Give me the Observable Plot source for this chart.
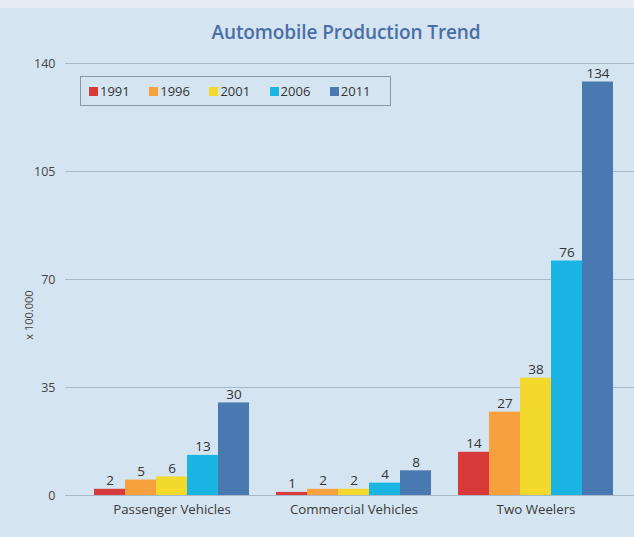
<!DOCTYPE html>
<html>
<head>
<meta charset="utf-8">
<script src="https://cdn.jsdelivr.net/npm/d3@7"></script>
<script src="https://cdn.jsdelivr.net/npm/@observablehq/plot@0.6"></script>
<style>
  html, body { margin: 0; padding: 0; }
  body { width: 634px; height: 537px; background: #d4e4f0; overflow: hidden; font-family: "Open Sans", sans-serif; }
  #wrap { position: relative; width: 634px; height: 537px; }
  #topstrip { position: absolute; left: 0; top: 0; width: 634px; height: 8px; background: #e6eef4; }
  #title { position: absolute; left: 0; width: 634px; top: 19px; text-align: center; padding-left: 58px; box-sizing: border-box;
           font-size: 19px; font-weight: 600; color: #4a6ea6; letter-spacing: -0.1px; }
  #ylabel { position: absolute; left: 28px; top: 315px; transform: translate(-50%, -50%) rotate(-90deg);
            font-size: 11px; color: #444; white-space: nowrap; }
  #legend { position: absolute; left: 80px; top: 76px; width: 311px; height: 30px; border: 1px solid #8a97a3;
            box-sizing: border-box; display: flex; align-items: center; padding-left: 8px; }
  .item { width: 64.5px; display: flex; align-items: center; font-size: 13px; color: #333; }
  .sw { width: 9px; height: 9px; margin-right: 2px; }
  #chart { position: absolute; left: 0; top: 0; }
</style>
</head>
<body>
<div id="wrap">
  <div id="topstrip"></div>
  <div id="chart"></div>
  <div id="title"></div>
  <div id="ylabel"></div>
  <div id="legend"></div>
</div>
<script>
const titleText = "Automobile Production Trend";
const yLabelText = "x 100.000";
const categories = ["Passenger Vehicles", "Commercial Vehicles", "Two Weelers"];
const years = ["1991", "1996", "2001", "2006", "2011"];
const passengerVehicles = [2, 5, 6, 13, 30];
const commercialVehicles = [1, 2, 2, 4, 8];
const twoWeelers = [14, 27, 38, 76, 134];
const yTicks = [0, 35, 70, 105, 140];
const yearColors = ["#d83a3c", "#f6a03e", "#f3d92c", "#1bb5e4", "#4a79b2"];

const seriesByCategory = [passengerVehicles, commercialVehicles, twoWeelers];
const data = categories.flatMap((c, i) =>
  years.map((y, j) => ({category: c, year: y, value: seriesByCategory[i][j]}))
);

document.getElementById("title").textContent = titleText;
document.getElementById("ylabel").textContent = yLabelText;
const legend = document.getElementById("legend");
years.forEach((y, i) => {
  const it = document.createElement("div");
  it.className = "item";
  const sw = document.createElement("span");
  sw.className = "sw";
  sw.style.background = yearColors[i];
  const t = document.createElement("span");
  t.textContent = y;
  it.appendChild(sw); it.appendChild(t);
  legend.appendChild(it);
});

const chart = Plot.plot({
  width: 634,
  height: 537,
  marginTop: 63,
  marginBottom: 42,
  marginLeft: 63,
  marginRight: 0,
  style: {background: "transparent", fontFamily: "Open Sans, sans-serif", overflow: "visible"},
  y: {domain: [0, 140], axis: null},
  x: {domain: years, padding: 0, axis: null},
  fx: {domain: categories, paddingInner: 0.1257, paddingOuter: 0.123, align: 0.6, label: null, axis: null},
  color: {domain: years, range: yearColors},
  marks: [
    // gridlines stretched across the gaps between facets and to the frame edges
    Plot.ruleY(yTicks, {stroke: "#a8b8c7", strokeWidth: 1, insetLeft: -27, insetRight: -23}),
    Plot.barY(data, {fx: "category", x: "year", y: "value", fill: "year"}),
    Plot.text(data, {fx: "category", x: "year", y: "value", text: d => String(d.value),
      dy: -4, lineAnchor: "bottom", fill: "#333", fontSize: 13.5}),
    Plot.axisY({ticks: yTicks, tickSize: 0, tickPadding: 37, fontSize: 12.5, color: "#444", label: null}),
    Plot.axisFx({anchor: "bottom", tickSize: 0, tickPadding: 9, fontSize: 13.3, color: "#3a3a3a", label: null})
  ]
});
document.getElementById("chart").appendChild(chart);
</script>
</body>
</html>
